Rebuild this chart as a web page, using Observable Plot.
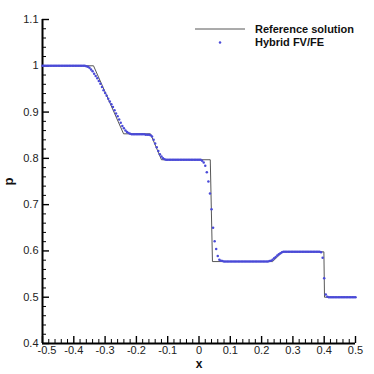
<!DOCTYPE html>
<html>
<head>
<meta charset="utf-8">
<script src="https://cdn.jsdelivr.net/npm/d3@7"></script>
<script src="https://cdn.jsdelivr.net/npm/@observablehq/plot@0.6"></script>
<style>
  html, body { margin: 0; padding: 0; background: #fff; }
  #chart { width: 374px; height: 374px; }
</style>
</head>
<body>
<div id="chart"></div>
<script>
// Reference solution (piecewise)
const refX = [-0.5, -0.337, -0.241, -0.155, -0.12, 0.036, 0.043, 0.235, 0.267, 0.399, 0.401, 0.5];
const refP = [1.0, 1.0, 0.853, 0.853, 0.797, 0.797, 0.577, 0.577, 0.598, 0.598, 0.5, 0.5];

// Hybrid FV/FE points
const hybX = [
-0.5,-0.495,-0.49,-0.485,-0.48,-0.475,-0.47,-0.465,-0.46,-0.455,
-0.45,-0.445,-0.44,-0.435,-0.43,-0.425,-0.42,-0.415,-0.41,-0.405,
-0.4,-0.395,-0.39,-0.385,-0.38,-0.375,-0.37,-0.365,-0.36,-0.355,
-0.35,-0.345,-0.34,-0.335,-0.33,-0.325,-0.32,-0.315,-0.31,-0.305,
-0.3,-0.295,-0.29,-0.285,-0.28,-0.275,-0.27,-0.265,-0.26,-0.255,
-0.25,-0.245,-0.24,-0.235,-0.23,-0.225,-0.22,-0.215,-0.21,-0.205,
-0.2,-0.195,-0.19,-0.185,-0.18,-0.175,-0.17,-0.165,-0.16,-0.155,
-0.15,-0.145,-0.14,-0.135,-0.13,-0.125,-0.12,-0.115,-0.11,-0.105,
-0.1,-0.095,-0.09,-0.085,-0.08,-0.075,-0.07,-0.065,-0.06,-0.055,
-0.05,-0.045,-0.04,-0.035,-0.03,-0.025,-0.02,-0.015,-0.01,-0.005,
0,0.005,0.01,0.015,0.02,0.025,0.03,0.035,0.04,0.045,
0.05,0.055,0.06,0.065,0.07,0.075,0.08,0.085,0.09,0.095,
0.1,0.105,0.11,0.115,0.12,0.125,0.13,0.135,0.14,0.145,
0.15,0.155,0.16,0.165,0.17,0.175,0.18,0.185,0.19,0.195,
0.2,0.205,0.21,0.215,0.22,0.225,0.23,0.235,0.24,0.245,
0.25,0.255,0.26,0.265,0.27,0.275,0.28,0.285,0.29,0.295,
0.3,0.305,0.31,0.315,0.32,0.325,0.33,0.335,0.34,0.345,
0.35,0.355,0.36,0.365,0.37,0.375,0.38,0.385,0.39,0.395,
0.4,0.405,0.41,0.415,0.42,0.425,0.43,0.435,0.44,0.445,
0.45,0.455,0.46,0.465,0.47,0.475,0.48,0.485,0.49,0.495,
0.5
];
const hybP = [
1,1,1,1,1,1,1,1,1,1,
1,1,1,1,1,1,1,1,1,1,
1,1,1,1,1,1,1,1,0.999,0.998,
0.996,0.992,0.988,0.983,0.978,0.973,0.967,0.961,0.954,0.947,
0.941,0.935,0.929,0.923,0.917,0.911,0.904,0.897,0.891,0.884,
0.877,0.870,0.865,0.860,0.857,0.855,0.853,0.852,0.852,0.852,
0.852,0.852,0.852,0.852,0.852,0.852,0.851,0.851,0.851,0.850,
0.847,0.840,0.832,0.824,0.816,0.809,0.804,0.800,0.798,0.797,
0.797,0.797,0.797,0.797,0.797,0.797,0.797,0.797,0.797,0.797,
0.797,0.797,0.797,0.797,0.797,0.797,0.797,0.797,0.797,0.797,
0.797,0.797,0.795,0.791,0.784,0.770,0.750,0.724,0.690,0.650,
0.621,0.604,0.589,0.581,0.579,0.578,0.577,0.577,0.577,0.577,
0.577,0.577,0.577,0.577,0.577,0.577,0.577,0.577,0.577,0.577,
0.577,0.577,0.577,0.577,0.577,0.577,0.577,0.577,0.577,0.577,
0.577,0.577,0.577,0.577,0.577,0.578,0.579,0.581,0.584,0.587,
0.590,0.593,0.595,0.597,0.598,0.598,0.598,0.598,0.598,0.598,
0.598,0.598,0.598,0.598,0.598,0.598,0.598,0.598,0.598,0.598,
0.598,0.598,0.598,0.598,0.598,0.598,0.598,0.598,0.597,0.585,
0.541,0.506,0.501,0.500,0.500,0.500,0.500,0.500,0.500,0.500,
0.500,0.500,0.500,0.500,0.500,0.500,0.500,0.500,0.500,0.500,
0.500
];

// Axis ticks and labels
const xMajor = [-0.5, -0.4, -0.3, -0.2, -0.1, 0, 0.1, 0.2, 0.3, 0.4, 0.5];
const xLabels = ["-0.5", "-0.4", "-0.3", "-0.2", "-0.1", "0", "0.1", "0.2", "0.3", "0.4", "0.5"];
const yMajor = [0.4, 0.5, 0.6, 0.7, 0.8, 0.9, 1.0, 1.1];
const yLabels = ["0.4", "0.5", "0.6", "0.7", "0.8", "0.9", "1", "1.1"];
const xMinor = d3.range(-50, 51, 2).filter(v => v % 10 !== 0).map(v => v / 100);
const yMinor = d3.range(40, 111, 2).filter(v => v % 10 !== 0).map(v => v / 100);

const legendNames = ["Reference solution", "Hybrid FV/FE"];

const refData = refX.map((x, i) => ({x, p: refP[i]}));
const hybData = hybX.map((x, i) => ({x, p: hybP[i]}));

const dotColor = "#4a4ad8";
const lineColor = "#444";
const font = "'Liberation Sans', Arial, Helvetica, sans-serif";

const xLabelOf = d => xLabels[xMajor.indexOf(d)];

const svg = Plot.plot({
  width: 374,
  height: 374,
  marginLeft: 42,
  marginRight: 19,
  marginTop: 19,
  marginBottom: 31,
  x: {domain: [-0.5, 0.5], label: null},
  y: {domain: [0.4, 1.1], label: null},
  style: {fontFamily: font, fontSize: "11px", color: "#222", background: "white", overflow: "visible"},
  marks: [
    Plot.axisY(yMinor, {tickSize: -4, tickFormat: () => "", label: null, stroke: "#000"}),
    Plot.axisY(yMajor, {tickSize: -7, tickFormat: () => "", label: null, stroke: "#000", strokeWidth: 1.4}),
    Plot.axisY(yMajor, {tickSize: 0, tickPadding: 4, tickFormat: d => yLabels[yMajor.indexOf(d)], label: null, fill: "#222"}),
    Plot.axisX(xMinor, {tickSize: -4, tickFormat: () => "", label: null, stroke: "#000"}),
    Plot.axisX(xMajor, {tickSize: -7, tickFormat: () => "", label: null, stroke: "#000", strokeWidth: 1.4}),
    Plot.axisX(xMajor.slice(1), {tickSize: 0, tickPadding: 3, tickFormat: xLabelOf, label: null, fill: "#222"}),
    Plot.text(xMajor.slice(0, 1), {x: d => d, text: xLabelOf, frameAnchor: "bottom", lineAnchor: "top", textAnchor: "start", dx: -5, dy: 3, fill: "#222"}),
    Plot.ruleX([-0.5], {stroke: "#000", strokeWidth: 2}),
    Plot.ruleY([0.4], {stroke: "#000", strokeWidth: 2}),
    Plot.line(refData, {x: "x", y: "p", stroke: lineColor, strokeWidth: 0.9}),
    Plot.dot(hybData, {x: "x", y: "p", r: 1.25, fill: dotColor, stroke: "none"}),
    Plot.text(["p"], {text: d => d, frameAnchor: "left", dx: -34, rotate: -90, textAnchor: "middle", fontWeight: "bold", fontSize: 13, fill: "#111"}),
    Plot.text(["x"], {text: d => d, frameAnchor: "bottom", dy: 24, textAnchor: "middle", fontWeight: "bold", fontSize: 12, fill: "#111"})
  ]
});

// Legend
const g = d3.select(svg).append("g")
  .attr("font-family", font).attr("font-size", 11).attr("font-weight", "bold")
  .attr("fill", "#111").attr("text-anchor", "start");
g.append("line").attr("x1", 195).attr("x2", 245).attr("y1", 29).attr("y2", 29).attr("stroke", lineColor).attr("stroke-width", 0.9);
g.append("text").attr("x", 255).attr("y", 33).text(legendNames[0]);
g.append("circle").attr("cx", 220).attr("cy", 42.5).attr("r", 1.25).attr("fill", dotColor);
g.append("text").attr("x", 255).attr("y", 45.5).text(legendNames[1]);

document.getElementById("chart").appendChild(svg);
</script>
</body>
</html>
